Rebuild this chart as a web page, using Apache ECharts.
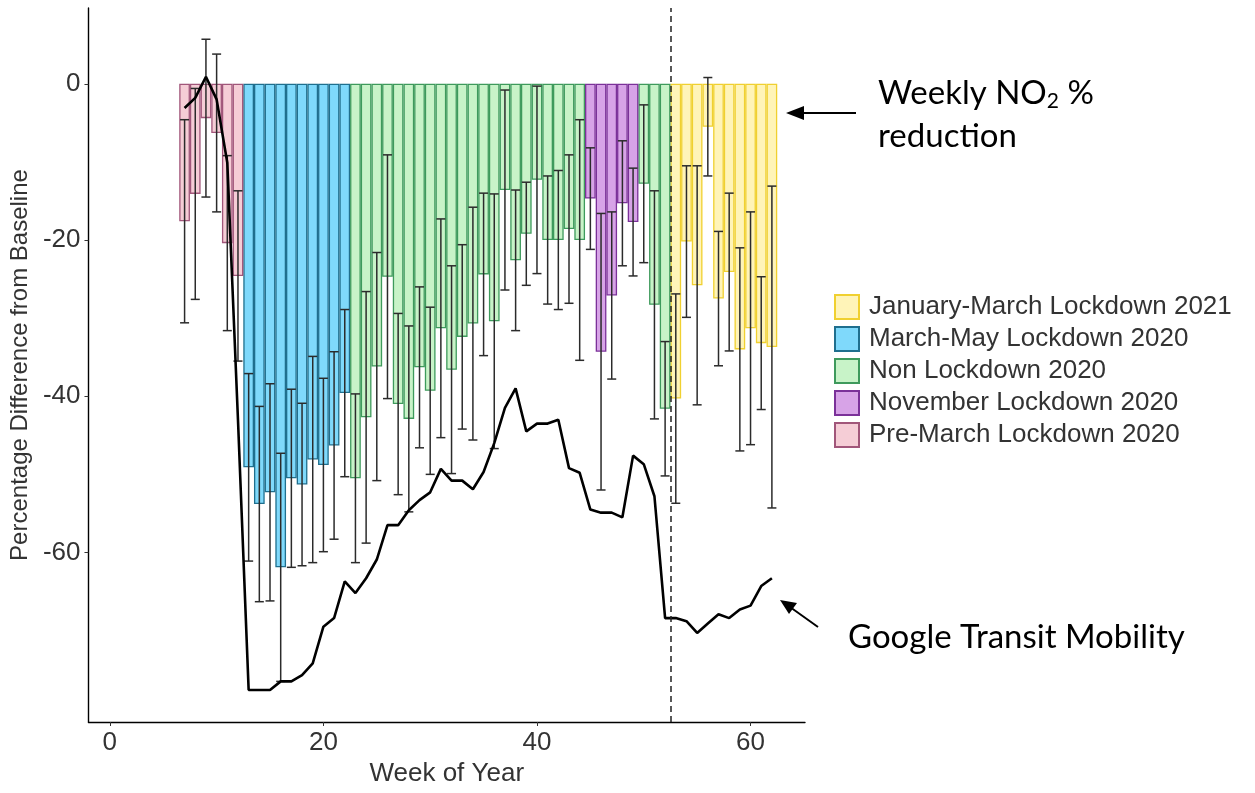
<!DOCTYPE html>
<html>
<head>
<meta charset="utf-8">
<script src="https://cdn.jsdelivr.net/npm/echarts@6/dist/echarts.min.js"></script>
<style>
  html, body { margin: 0; padding: 0; background: #fff; }
  #chart { width: 1255px; height: 793px; }
</style>
</head>
<body>
<div id="chart"></div>
<script>
// weeks of year (53+ = 2021)
const weeks = [7, 8, 9, 10, 11, 12, 13, 14, 15, 16, 17, 18, 19, 20, 21, 22, 23, 24, 25, 26, 27, 28,
  29, 30, 31, 32, 33, 34, 35, 36, 37, 38, 39, 40, 41, 42, 43, 44, 45, 46, 47, 48, 49, 50, 51, 52,
  53, 54, 55, 56, 57, 58, 59, 60, 61, 62]

// weekly NO2 % difference from baseline
const no2Pct = [-17.6, -14.1, -4.4, -6.3, -20.4, -24.6,
  -49.1, -53.8, -52.3, -61.9, -50.5, -51.3, -48.1, -48.8, -46.3, -39.6,
  -50.5, -42.7, -36.2, -24.7, -41.0, -42.9, -36.3, -39.3, -31.3, -36.6, -32.4, -30.7, -24.4, -30.4,
  -13.6, -22.6, -19.2, -12.3, -20.0, -20.0, -18.6, -20.0,
  -14.7, -34.3, -27.1, -15.3, -17.7,
  -12.8, -28.3, -41.6,
  -40.3, -20.2, -25.8, -5.5, -27.5, -24.1, -34.0, -31.3, -33.2, -33.7]

// error bar half length
const no2Err = [13.0, 13.5, 10.1, 10.1, 11.2, 10.9,
  12.0, 12.5, 13.9, 14.6, 11.4, 10.4, 13.2, 11.1, 12.0, 10.7,
  10.8, 16.1, 14.6, 15.6, 11.6, 11.9, 10.3, 10.7, 14.0, 13.3, 11.8, 14.9, 10.4, 16.3,
  12.8, 9.0, 6.6, 12.0, 8.2, 8.9, 9.5, 15.4,
  6.5, 17.7, 10.7, 8.0, 6.9,
  10.1, 14.6, 8.6,
  13.4, 9.7, 15.3, 6.3, 8.6, 10.1, 13.0, 14.9, 8.5, 20.6]

// Google transit mobility, % from baseline
const transitPct = [-3.1, -1.8, 0.9, -2.0, -10.1, -43.0,
  -77.6, -77.6, -77.6, -76.5, -76.5, -75.7, -74.2, -69.5, -68.4, -63.7,
  -65.2, -63.3, -60.9, -56.5, -56.5, -54.6, -53.3, -52.3, -49.3, -50.8, -50.8, -51.9, -49.7, -46.0,
  -41.5, -39.0, -44.5, -43.5, -43.5, -43.0, -49.2, -49.8,
  -54.5, -54.9, -54.9, -55.5, -47.6,
  -48.7, -52.8, -68.4,
  -68.4, -68.8, -70.3, -69.1, -67.9, -68.4, -67.3, -66.8, -64.3, -63.3]

const periods = ['January-March Lockdown 2021', 'March-May Lockdown 2020', 'Non Lockdown 2020',
  'November Lockdown 2020', 'Pre-March Lockdown 2020']

// index into periods for every week
const weekPeriod = [4, 4, 4, 4, 4, 4,
  1, 1, 1, 1, 1, 1, 1, 1, 1, 1,
  2, 2, 2, 2, 2, 2, 2, 2, 2, 2, 2, 2, 2, 2, 2, 2, 2, 2, 2, 2, 2, 2,
  3, 3, 3, 3, 3,
  2, 2, 2,
  0, 0, 0, 0, 0, 0, 0, 0, 0, 0]

const xTicks = [0, 20, 40, 60]
const yTicks = [-60, -40, -20, 0]
const yearBreak = 52.5

const fills = ['#fff4b8', '#7fd9fb', '#c8f3c8', '#d7a3e7', '#f5cdd6']
const borders = ['#f0d030', '#1f6f8e', '#3e9a5c', '#7b3199', '#a1567a']

const font = 'Liberation Sans, Arial, sans-serif'
const noteFont = 'Lato, sans-serif'

const barSeries = periods.map((name, p) => ({
  name: name,
  type: 'bar',
  barWidth: 10.7,
  barGap: '-100%',
  z: 2,
  itemStyle: {
    color: fills[p],
    borderColor: borders[p],
    borderWidth: 1.3
  },
  data: weeks.map((w, i) => weekPeriod[i] === p ? [w, no2Pct[i]] : null).filter(d => d)
}))

const errData = weeks.map((w, i) => [w, no2Pct[i] - no2Err[i], no2Pct[i] + no2Err[i]])

const errSeries = {
  type: 'custom',
  z: 3,
  silent: true,
  data: errData,
  encode: { x: 0, y: [1, 2] },
  renderItem: (params, api) => {
    const lo = api.coord([api.value(0), api.value(1)])
    const hi = api.coord([api.value(0), api.value(2)])
    const cap = 4.5
    const style = { stroke: '#2b2b2b', lineWidth: 1.5 }
    return {
      type: 'group',
      children: [
        { type: 'line', shape: { x1: lo[0], y1: lo[1], x2: hi[0], y2: hi[1] }, style: style },
        { type: 'line', shape: { x1: lo[0] - cap, y1: lo[1], x2: lo[0] + cap, y2: lo[1] }, style: style },
        { type: 'line', shape: { x1: hi[0] - cap, y1: hi[1], x2: hi[0] + cap, y2: hi[1] }, style: style }
      ]
    }
  }
}

const lineSeries = {
  name: 'Google Transit Mobility',
  type: 'line',
  z: 4,
  symbol: 'none',
  lineStyle: { color: '#000', width: 2.6 },
  data: weeks.map((w, i) => [w, transitPct[i]]),
  markLine: {
    silent: true,
    symbol: 'none',
    label: { show: false },
    lineStyle: { color: '#222', type: [6, 4], width: 1.5 },
    data: [{ xAxis: yearBreak }]
  }
}

const chart = echarts.init(document.getElementById('chart'))
chart.setOption({
  animation: false,
  backgroundColor: '#fff',
  grid: { left: 88, right: 450, top: 8, bottom: 71, containLabel: false },
  legend: {
    data: periods,
    orient: 'vertical',
    left: 829,
    top: 289,
    icon: 'rect',
    itemWidth: 24,
    itemHeight: 24,
    itemGap: 6,
    textStyle: { fontFamily: font, fontSize: 26, color: '#333', padding: [0, 0, 0, 5] }
  },
  xAxis: {
    type: 'value',
    min: -2,
    max: 65.1,
    name: 'Week of Year',
    nameLocation: 'middle',
    nameGap: 38,
    nameTextStyle: { fontFamily: font, fontSize: 26, color: '#333' },
    splitLine: { show: false },
    axisLine: { onZero: false, lineStyle: { color: '#000', width: 1.4 } },
    axisTick: { length: 4, lineStyle: { color: '#333' }, customValues: xTicks },
    axisLabel: { fontFamily: font, fontSize: 26, color: '#333', margin: 8, customValues: xTicks }
  },
  yAxis: {
    type: 'value',
    min: -81.7,
    max: 9.7,
    name: 'Percentage Difference from Baseline',
    nameLocation: 'middle',
    nameGap: 48,
    nameTextStyle: { fontFamily: font, fontSize: 24, color: '#333' },
    splitLine: { show: false },
    axisLine: { show: true, onZero: false, lineStyle: { color: '#000', width: 1.4 } },
    axisTick: { show: true, length: 4, lineStyle: { color: '#333' }, customValues: yTicks },
    axisLabel: { fontFamily: font, fontSize: 26, color: '#333', margin: 8, customValues: yTicks }
  },
  series: [...barSeries, errSeries, lineSeries],
  graphic: [
    {
      type: 'text',
      left: 878,
      top: 74,
      style: {
        text: '{a|Weekly NO}{s|2}{a| %}\n{a|reduction}',
        rich: {
          a: { fontFamily: noteFont, fontSize: 33, fill: '#000', lineHeight: 43 },
          s: { fontFamily: noteFont, fontSize: 21, fill: '#000', padding: [17, 0, 0, 0], lineHeight: 43 }
        }
      }
    },
    { type: 'line', shape: { x1: 856, y1: 113, x2: 800, y2: 113 }, style: { stroke: '#000', lineWidth: 2 } },
    { type: 'polygon', shape: { points: [[786, 113], [804, 106], [804, 120]] }, style: { fill: '#000' } },
    {
      type: 'text',
      left: 848,
      top: 621,
      style: { text: 'Google Transit Mobility', fontFamily: noteFont, fontSize: 33, fill: '#000' }
    },
    { type: 'line', shape: { x1: 818, y1: 627, x2: 790, y2: 607 }, style: { stroke: '#000', lineWidth: 2 } },
    { type: 'polygon', shape: { points: [[780, 600], [797, 603], [789, 614]] }, style: { fill: '#000' } }
  ]
})
</script>
</body>
</html>
